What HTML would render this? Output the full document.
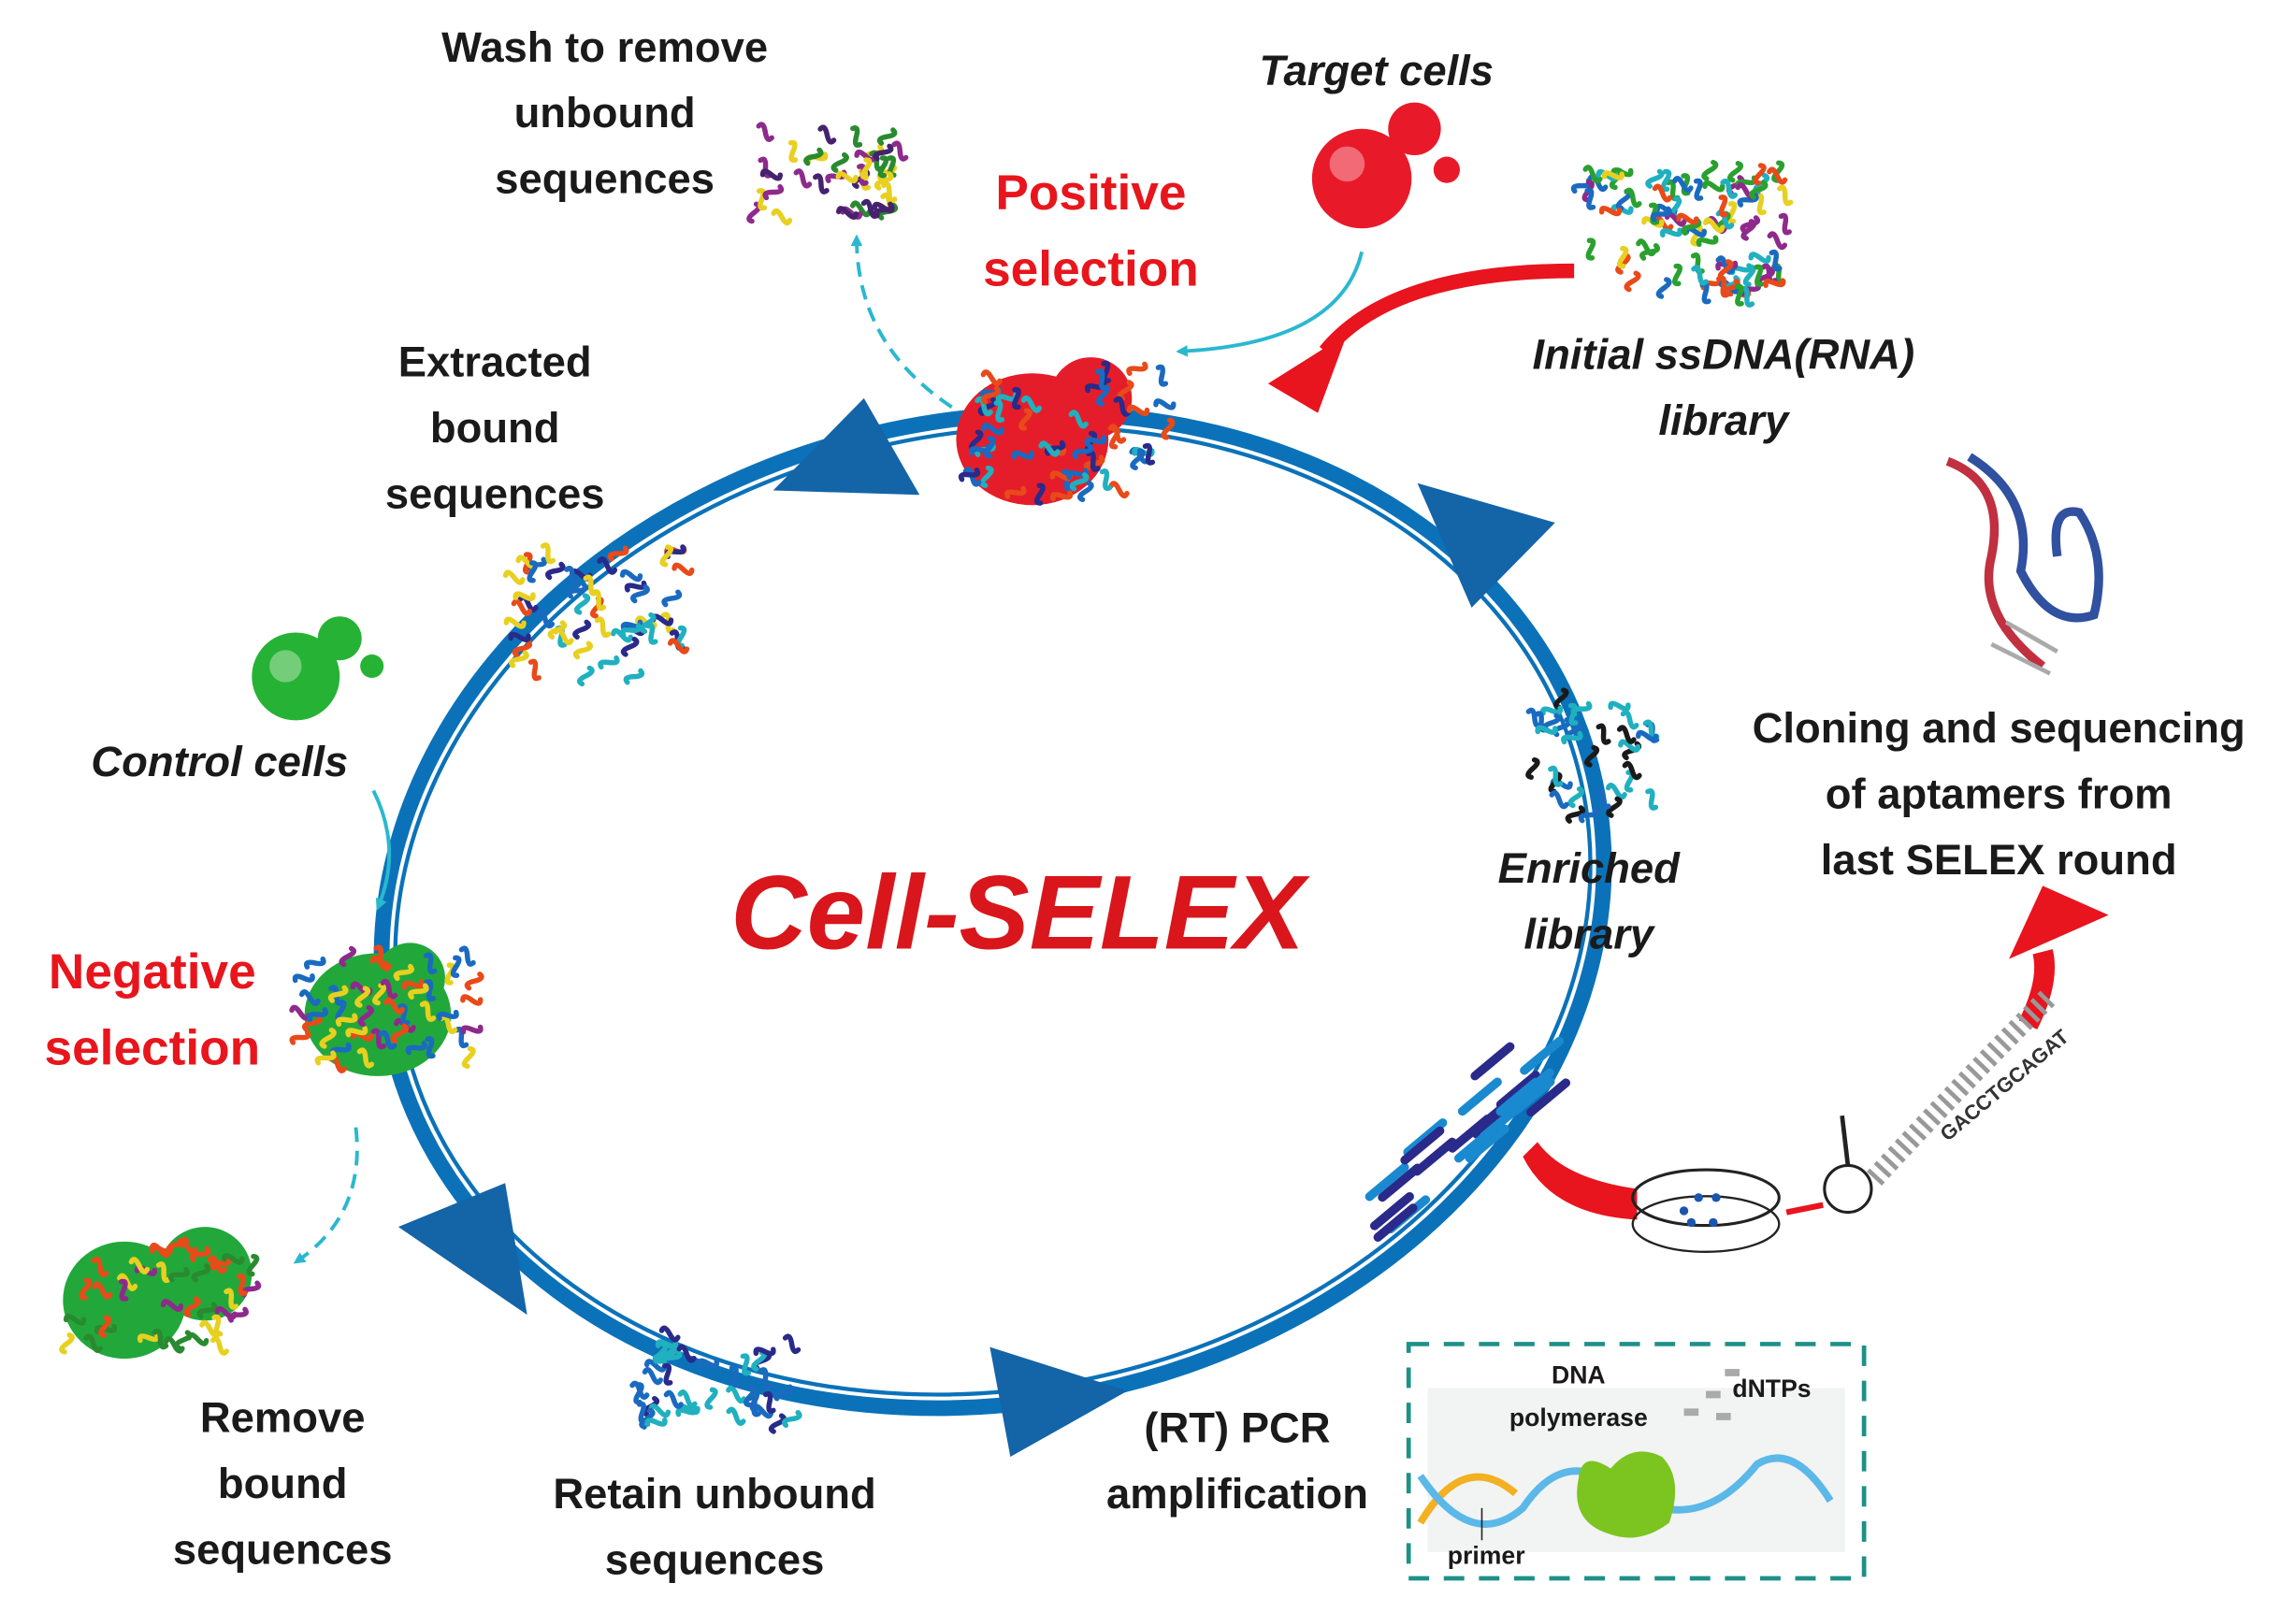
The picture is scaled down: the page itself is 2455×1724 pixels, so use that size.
<!DOCTYPE html>
<html><head><meta charset="utf-8"><style>
html,body{margin:0;padding:0;background:#fff;}
svg{display:block;}
text{font-family:"Liberation Sans",sans-serif;font-weight:bold;}
</style></head><body>
<svg id="s" width="2455" height="1724" viewBox="0 0 1568 1101" preserveAspectRatio="none" xmlns="http://www.w3.org/2000/svg">
<defs>
<marker id="cy" markerWidth="8" markerHeight="8" refX="6" refY="4" orient="auto" markerUnits="userSpaceOnUse"><path d="M0,0 L8,4 L0,8 z" fill="#2ab8d0"/></marker>
</defs>
<!-- ring -->
<g transform="rotate(-12 678 622)">
<ellipse cx="678" cy="622" rx="418" ry="333" fill="none" stroke="#0b72b9" stroke-width="16"/>
<ellipse cx="678" cy="622" rx="414" ry="329" fill="none" stroke="#fff" stroke-width="2.5"/>
</g>
<!-- arrowheads -->
<polygon points="528,335 628,338 590,272" fill="#1464a8"/>
<polygon points="968,330 1062,357 1005,415" fill="#1464a8"/>
<polygon points="272,838 345,808 360,898" fill="#1464a8"/>
<polygon points="676,920 770,950 690,995" fill="#1464a8"/>

<text x="695" y="648" font-size="72" font-style="italic" fill="#d9161c" text-anchor="middle">Cell-SELEX</text>

<g font-size="29" fill="#1a1a1a" text-anchor="middle">
<text x="413" y="42">Wash to remove</text>
<text x="413" y="87">unbound</text>
<text x="413" y="132">sequences</text>
<text x="338" y="257">Extracted</text>
<text x="338" y="302">bound</text>
<text x="338" y="347">sequences</text>
<text x="1365" y="507">Cloning and sequencing</text>
<text x="1365" y="552">of aptamers from</text>
<text x="1365" y="597">last SELEX round</text>
<text x="193" y="978">Remove</text>
<text x="193" y="1023">bound</text>
<text x="193" y="1068">sequences</text>
<text x="488" y="1030">Retain unbound</text>
<text x="488" y="1075">sequences</text>
<text x="845" y="985">(RT) PCR</text>
<text x="845" y="1030">amplification</text>
</g>
<g font-size="29" fill="#1a1a1a" text-anchor="middle" font-style="italic">
<text x="940" y="58">Target cells</text>
<text x="1177" y="252">Initial ssDNA(RNA)</text>
<text x="1177" y="297">library</text>
<text x="150" y="530">Control cells</text>
<text x="1085" y="603">Enriched</text>
<text x="1085" y="648">library</text>
</g>
<g font-size="34" fill="#e8161c" text-anchor="middle">
<text x="745" y="143">Positive</text>
<text x="745" y="195">selection</text>
<text x="104" y="675">Negative</text>
<text x="104" y="727">selection</text>
</g>

<!-- cells -->
<circle cx="930" cy="122" r="34" fill="#e81a2a"/><circle cx="920" cy="112" r="12" fill="#f7a0a8" opacity=".6"/>
<circle cx="966" cy="88" r="18" fill="#e81a2a"/><circle cx="988" cy="116" r="9" fill="#e81a2a"/>
<circle cx="202" cy="462" r="30" fill="#26b234"/><circle cx="195" cy="455" r="11" fill="#a8e0a8" opacity=".6"/>
<circle cx="232" cy="436" r="15" fill="#26b234"/><circle cx="254" cy="455" r="8" fill="#26b234"/>
<ellipse cx="705" cy="300" rx="52" ry="45" fill="#e51d2a"/><circle cx="745" cy="272" r="28" fill="#e51d2a"/>
<ellipse cx="258" cy="693" rx="50" ry="42" fill="#22a83a"/><circle cx="280" cy="668" r="24" fill="#22a83a"/>
<ellipse cx="85" cy="888" rx="42" ry="40" fill="#22a83a"/><circle cx="140" cy="870" r="32" fill="#22a83a"/>

<!-- cyan arrows -->
<path d="M930,172 Q915,235 805,240" fill="none" stroke="#2ab8d0" stroke-width="2.5" marker-end="url(#cy)"/>
<path d="M255,540 Q275,580 258,620" fill="none" stroke="#2ab8d0" stroke-width="2.5" marker-end="url(#cy)"/>
<path d="M650,278 Q585,235 585,162" fill="none" stroke="#2ab8d0" stroke-width="2.5" stroke-dasharray="10,6" marker-end="url(#cy)"/>
<path d="M243,770 Q250,830 202,862" fill="none" stroke="#2ab8d0" stroke-width="2.5" stroke-dasharray="10,6" marker-end="url(#cy)"/>

<!-- red arrows -->
<path d="M1075,185 Q950,185 905,240" fill="none" stroke="#e8141e" stroke-width="10"/>
<polygon points="866,262 920,228 900,282" fill="#e8141e"/>
<path d="M1040,790 Q1060,830 1118,833 L1118,812 Q1068,805 1050,780 z" fill="#e8141e"/>
<line x1="1220" y1="828" x2="1245" y2="823" stroke="#e8141e" stroke-width="4"/>
<path d="M1385,700 Q1400,670 1395,650" fill="none" stroke="#e8141e" stroke-width="14"/>
<polygon points="1372,655 1440,625 1395,605" fill="#e8141e"/>
<!-- petri dish -->
<ellipse cx="1165" cy="818" rx="50" ry="19" fill="none" stroke="#222" stroke-width="2"/>
<ellipse cx="1165" cy="836" rx="50" ry="19" fill="none" stroke="#222" stroke-width="1.5"/>
<g fill="#1a55b0"><circle cx="1150" cy="827" r="3"/><circle cx="1160" cy="818" r="3"/><circle cx="1172" cy="818" r="3"/><circle cx="1155" cy="835" r="3"/><circle cx="1170" cy="835" r="3"/></g>
<circle cx="1262" cy="812" r="16" fill="none" stroke="#222" stroke-width="2"/>
<line x1="1262" y1="796" x2="1258" y2="762" stroke="#222" stroke-width="3"/>
<path d="M1280,805 Q1340,740 1400,680" fill="none" stroke="#999" stroke-width="14" stroke-dasharray="3,4"/>
<text x="1330" y="780" font-size="14" fill="#333" transform="rotate(-40 1330 780)" font-weight="normal">GACCTGCAGAT</text>
<!-- aptamer structure -->
<path d="M1330,315 Q1370,330 1360,380 Q1350,420 1395,455" fill="none" stroke="#c03040" stroke-width="6"/>
<path d="M1345,312 Q1390,340 1380,390 Q1400,430 1430,420 Q1440,380 1420,350 Q1400,345 1405,380" fill="none" stroke="#3050a0" stroke-width="6"/>
<path d="M1360,440 L1400,460 M1370,425 L1405,445" stroke="#aaa" stroke-width="3"/>

<!-- PCR box -->
<rect x="962" y="918" width="311" height="160" fill="none" stroke="#1e9088" stroke-width="3" stroke-dasharray="14,10"/>
<rect x="975" y="948" width="285" height="112" fill="#f2f3f3"/>
<path d="M970,1040 Q1000,990 1035,1020" fill="none" stroke="#f3b020" stroke-width="5"/>
<path d="M970,1008 Q1005,1060 1040,1030 Q1070,985 1110,1020 Q1160,1050 1200,1000 Q1225,985 1250,1025" fill="none" stroke="#5bb8e8" stroke-width="5"/>
<path d="M1100,1003 Q1080,990 1078,1010 Q1072,1040 1100,1048 Q1120,1055 1140,1040 Q1150,1010 1135,995 Q1115,985 1100,1003" fill="#7cc420"/>
<g fill="#aaa"><rect x="1150" y="962" width="10" height="5"/><rect x="1165" y="950" width="10" height="5"/><rect x="1178" y="935" width="10" height="5"/><rect x="1172" y="965" width="10" height="5"/></g>
<g font-size="17" fill="#1a1a1a" text-anchor="middle">
<text x="1078" y="945">DNA</text><text x="1078" y="974">polymerase</text>
<text x="1210" y="954">dNTPs</text><text x="1015" y="1068">primer</text>
</g>
<line x1="1012" y1="1030" x2="1012" y2="1052" stroke="#222" stroke-width="1"/>

<g id="sq"></g>
</svg>
<script>
(function(){
var seed=7;function r(){seed=(seed*16807)%2147483647;return seed/2147483647;}
var C=[
[565,120,50,30,["#8e2a8c","#2a8a30","#e8d020","#46226e"],40],
[1150,160,70,45,["#1a6ac0","#e84a1a","#e8d020","#2aa030","#8e2a8c","#20b0c0"],90],
[730,295,70,45,["#1a6ac0","#20b0c0","#e84a1a","#2a2a8a"],55],
[410,420,60,45,["#1a6ac0","#2a2a8a","#e8d020","#e84a1a","#20b0c0"],55],
[265,690,60,40,["#e84a1a","#8e2a8c","#e8d020","#1a6ac0"],50],
[110,885,65,35,["#8e2a8c","#e84a1a","#e8d020","#2a8a30"],40],
[488,945,55,35,["#1a6ac0","#2a2a8a","#20b0c0"],40],
[1085,515,45,45,["#1a1a1a","#1a6ac0","#20b0c0"],35]];
var g=document.getElementById('sq'),h='';
C.forEach(function(c){for(var i=0;i<c[5];i++){var x=c[0]+(r()*2-1)*c[2],y=c[1]+(r()*2-1)*c[3],a=r()*6.28,col=c[4][Math.floor(r()*c[4].length)];
var dx=Math.cos(a)*6,dy=Math.sin(a)*6;
h+='<path d="M'+(x-dx)+','+(y-dy)+' q'+(dy*0.8)+','+(-dx*0.8)+' '+dx+','+dy+' t'+dx+','+dy+'" fill="none" stroke="'+col+'" stroke-width="3.5" stroke-linecap="round"/>';}});
for(var k=0;k<22;k++){var t=r(),x=915+t*120+(r()*2-1)*20,y=850-t*110+(r()*2-1)*20;
h+='<line x1="'+x+'" y1="'+y+'" x2="'+(x+24)+'" y2="'+(y-20)+'" stroke="'+(k%2?"#2a2a8a":"#1a8ad0")+'" stroke-width="6" stroke-linecap="round"/>';}
g.innerHTML=h;})();
</script>
</body></html>
